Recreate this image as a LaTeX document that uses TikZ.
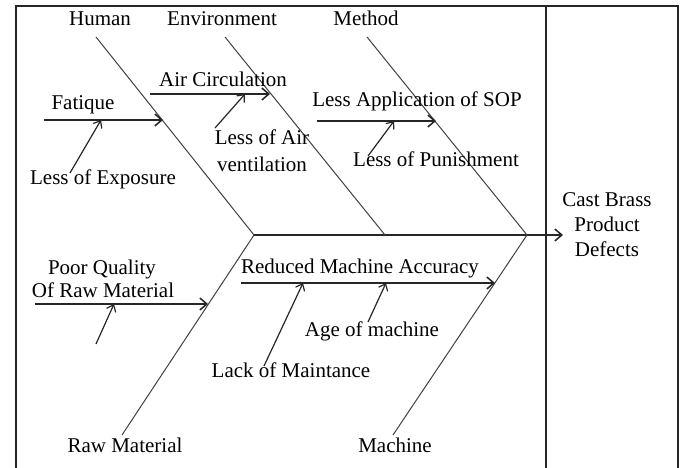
\documentclass[tikz,border=0pt]{standalone}
\usepackage{fontspec}
\setmainfont{Liberation Serif}
\usetikzlibrary{arrows.meta}
\begin{document}
\begin{tikzpicture}[x=1pt,y=-1pt,
  lbl/.style={inner sep=0pt, anchor=base, font=\fontsize{21}{23}\selectfont},
  frame/.style={line width=1.4pt, draw=black!85},
  bone/.style={line width=1pt, draw=black!75},
  spine/.style={line width=1.5pt, draw=black!85, -{Straight Barb[length=7pt,width=12pt]}},
  sub/.style={line width=1.5pt, draw=black!85, -{Straight Barb[length=7pt,width=12pt]}},
  cause/.style={line width=1.2pt, draw=black!85, -{Straight Barb[length=6pt,width=10pt]}}]
\useasboundingbox (0,0) rectangle (686,468);
% frame
\coordinate (fbl) at (16,468);
\coordinate (ftl) at (16,6);
\coordinate (ftr) at (678,6);
\coordinate (fbr) at (678,468);
\coordinate (fmt) at (546,6);
\coordinate (fmb) at (546,468);
\draw[frame] (fbl) -- (ftl) -- (ftr) -- (fbr);
\draw[frame] (fmt) -- (fmb);
% head
\node[lbl] (h1) at (607,207) {Cast Brass};
\node[lbl] (h2) at (607,232) {Product};
\node[lbl] (h3) at (607,256) {Defects};
% spine
\coordinate (sp0) at (254,235);
\coordinate (sp1) at (527,235);
\coordinate (spe) at (563,235);
\draw[spine] (sp0) -- (spe);
% category labels
\node[lbl] (human) at (100,26) {Human};
\node[lbl] (env) at (222,26) {Environment};
\node[lbl] (meth) at (366,26) {Method};
\node[lbl] (raw) at (125,452) {Raw Material};
\node[lbl] (mach) at (395,452) {Machine};
% bones
\coordinate (b1) at (96,37);
\coordinate (b2) at (225,37);
\coordinate (b3) at (367,37);
\coordinate (e2) at (385,235);
\coordinate (b4) at (122,435);
\coordinate (b5) at (393,435);
\draw[bone] (b1) -- (sp0);
\draw[bone] (b2) -- (e2);
\draw[bone] (b3) -- (sp1);
\draw[bone] (b4) -- (sp0);
\draw[bone] (b5) -- (sp1);
% Human
\node[lbl] (fat) at (83,110) {Fatique};
\coordinate (fat0) at (44,120);
\coordinate (fat1) at (163,120);
\draw[sub] (fat0) -- (fat1);
\node[lbl] (exp) at (103,185) {Less of Exposure};
\coordinate (exp0) at (70,173);
\coordinate (exp1) at (101,120);
\draw[cause] (exp0) -- (exp1);
% Environment
\node[lbl] (air) at (223,87) {Air Circulation};
\coordinate (air0) at (150,94);
\coordinate (air1) at (270,94);
\draw[sub] (air0) -- (air1);
\node[lbl] (la1) at (262,145) {Less of Air};
\node[lbl] (la2) at (262,172) {ventilation};
\coordinate (la0) at (215,128);
\coordinate (la3) at (245,94);
\draw[cause] (la0) -- (la3);
% Method
\node[lbl] (sop) at (417,107) {Less Application of SOP};
\coordinate (sop0) at (317,121);
\coordinate (sop1) at (436,121);
\draw[sub] (sop0) -- (sop1);
\node[lbl] (pun) at (436,167) {Less of Punishment};
\coordinate (pun0) at (368,156);
\coordinate (pun1) at (394,121);
\draw[cause] (pun0) -- (pun1);
% Raw material
\node[lbl] (pq1) at (102,274) {Poor Quality};
\node[lbl] (pq2) at (103,297) {Of Raw Material};
\coordinate (pq0) at (35,304);
\coordinate (pq3) at (208,304);
\draw[sub] (pq0) -- (pq3);
\coordinate (un0) at (96,344);
\coordinate (un1) at (114,304);
\draw[cause] (un0) -- (un1);
% Machine
\node[lbl] (rma) at (360,273) {Reduced Machine Accuracy};
\coordinate (rma0) at (241,283);
\coordinate (rma1) at (495,283);
\draw[sub] (rma0) -- (rma1);
\node[lbl] (lom) at (291,377) {Lack of Maintance};
\coordinate (lom0) at (264,366);
\coordinate (lom1) at (303,283);
\draw[cause] (lom0) -- (lom1);
\node[lbl] (age) at (372,336) {Age of machine};
\coordinate (age0) at (368,322);
\coordinate (age1) at (386,283);
\draw[cause] (age0) -- (age1);
\end{tikzpicture}
\end{document}
